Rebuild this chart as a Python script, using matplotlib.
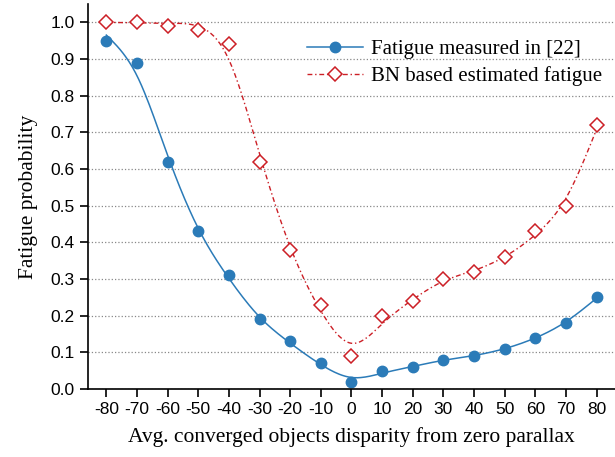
import numpy as np
import matplotlib.pyplot as plt

plt.rcParams["axes.unicode_minus"] = False

disparity = [-80, -70, -60, -50, -40, -30, -20, -10, 0, 10, 20, 30, 40, 50, 60, 70, 80]
measured = [0.95, 0.89, 0.62, 0.43, 0.31, 0.19, 0.13, 0.07, 0.02, 0.05, 0.06, 0.08, 0.09, 0.11, 0.14, 0.18, 0.25]
estimated = [1.00, 1.00, 0.99, 0.98, 0.94, 0.62, 0.38, 0.23, 0.09, 0.20, 0.24, 0.30, 0.32, 0.36, 0.43, 0.50, 0.72]
yticks = [0.0, 0.1, 0.2, 0.3, 0.4, 0.5, 0.6, 0.7, 0.8, 0.9, 1.0]


def smooth(x, y, lam, step=0.5):
    # discrete smoothing spline: least squares fit + penalty on second differences
    x = np.asarray(x, float)
    y = np.asarray(y, float)
    grid = np.arange(x.min(), x.max() + step / 2, step)
    n = len(grid)
    W = np.zeros((len(x), n))
    for i, xi in enumerate(x):
        W[i, np.argmin(np.abs(grid - xi))] = 1.0
    D = np.diff(np.eye(n), 2, axis=0) / step**2
    A = W.T @ W + lam * step * (D.T @ D)
    f = np.linalg.solve(A, W.T @ y)
    return grid, f


blue = "#2b7bb8"
red = "#cc1f26"
dashdot = (0, (3.5, 2, 1, 2))

fig = plt.figure(figsize=(6.15, 4.57), dpi=100)
ax = fig.add_axes([0.143, 0.149, 0.857, 0.842])

gx, gy = smooth(disparity, measured, 90.0)
ax.plot(gx, gy, color=blue, lw=1.1)
ax.plot(disparity, measured, "o", color=blue, ms=7.5)
ax.plot([], [], "-o", color=blue, lw=1.1, ms=7.5, label="Fatigue measured in [22]")

gx, gy = smooth(disparity, estimated, 90.0)
ax.plot(gx, gy, color=red, lw=1.0, linestyle=dashdot)
ax.plot(disparity, estimated, "D", mfc="white", mec=red, mew=1.1, ms=7)
ax.plot([], [], "D", color=red, lw=1.0, linestyle=dashdot, mfc="white",
        mec=red, mew=1.1, ms=7, label="BN based estimated fatigue")

ax.set_xlim(-86, 86)
ax.set_ylim(0, 1.05)
ax.set_xticks(disparity)
ax.set_yticks(yticks)
ax.set_yticklabels([f"{v:.1f}" for v in yticks])
ax.grid(axis="y", linestyle=":", color="#888888", lw=0.9)
ax.set_axisbelow(True)
for s in ["top", "right"]:
    ax.spines[s].set_visible(False)
ax.spines["left"].set_linewidth(1.2)
ax.spines["bottom"].set_linewidth(1.2)
ax.tick_params(direction="out", length=6, width=1.2, labelsize=12.5)
for lab in ax.get_xticklabels() + ax.get_yticklabels():
    lab.set_family("Liberation Sans")

ax.set_xlabel("Avg. converged objects disparity from zero parallax",
              family="Liberation Serif", fontsize=15.5, labelpad=7)
ax.set_ylabel("Fatigue probability", family="Liberation Serif", fontsize=15.5, labelpad=9)
ax.legend(loc="upper right", bbox_to_anchor=(1.0, 0.94), frameon=False,
          prop={"family": "Liberation Serif", "size": 15}, handlelength=2.7,
          handletextpad=0.4, labelspacing=0.35, borderaxespad=0.2)

fig.savefig("out.png", dpi=100)
